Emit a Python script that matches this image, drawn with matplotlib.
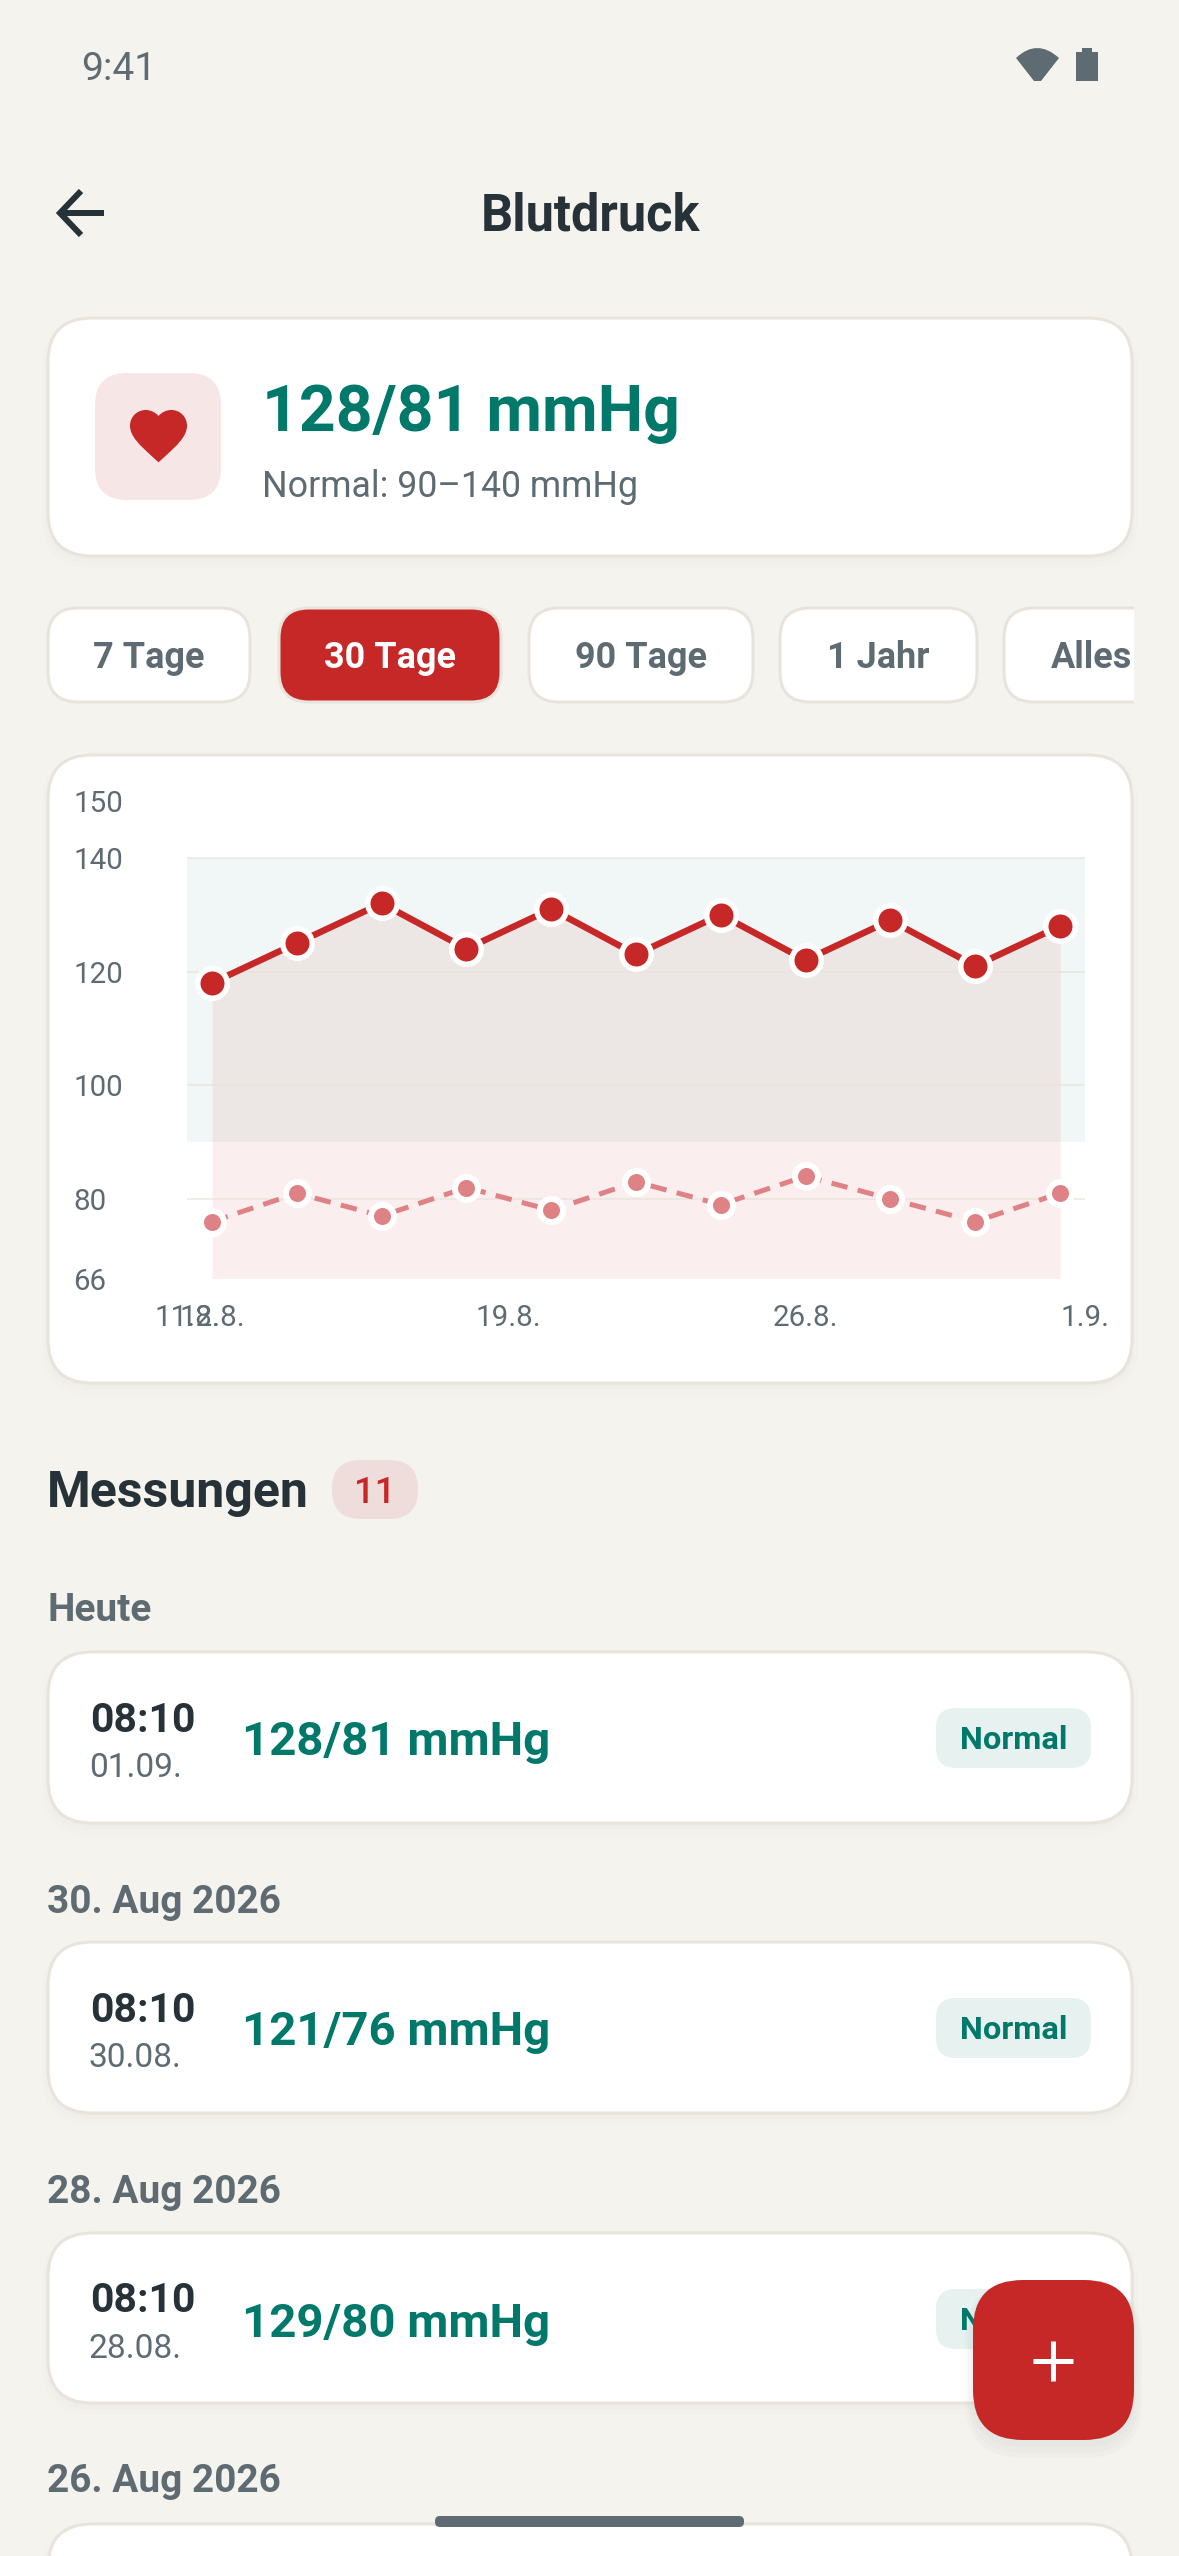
#!/usr/bin/env python3
"""Blutdruck screen: phone UI drawn in pixel coordinates, chart in its own axes."""
import matplotlib

matplotlib.use("Agg")
import matplotlib.pyplot as plt
from matplotlib.patches import FancyBboxPatch, PathPatch, Rectangle
from matplotlib.path import Path

W, H = 1179, 2556

# --- data -------------------------------------------------------------------
DAYS = [0, 2, 4, 6, 8, 10, 12, 14, 16, 18, 20]  # days since 12.8.
SYSTOLIC = [118, 125, 132, 124, 131, 123, 130, 122, 129, 121, 128]
DIASTOLIC = [76, 81, 77, 82, 78, 83, 79, 84, 80, 76, 81]
Y_TICKS = [66, 80, 100, 120, 140, 150]
GRID_Y = [80, 100, 120, 140]
X_TICKS = [-0.59, 0, 7, 14, 20.59]
X_LABELS = ["11.8.", "12.8.", "19.8.", "26.8.", "1.9."]
NORMAL_LOW, NORMAL_HIGH = 90, 140

CHIPS = ["7 Tage", "30 Tage", "90 Tage", "1 Jahr", "Alles"]
SECTIONS = ["Heute", "30. Aug 2026", "28. Aug 2026", "26. Aug 2026"]
TIMES = ["08:10", "08:10", "08:10"]
DATES = ["01.09.", "30.08.", "28.08."]
READINGS = ["128/81 mmHg", "121/76 mmHg", "129/80 mmHg"]

# --- palette ----------------------------------------------------------------
BG = "#F5F3EE"
BORDER = "#E8E4DC"
DARK = "#263238"
MUTED = "#5F6B72"
RED = "#C62828"
RED_SOFT = "#DF8285"
GREEN = "#00796B"

plt.rcParams["font.family"] = ["Roboto", "DejaVu Sans"]

fig = plt.figure(figsize=(W / 100, H / 100), dpi=100, facecolor=BG)
ui = fig.add_axes([0, 0, 1, 1])
ui.set_xlim(0, W)
ui.set_ylim(H, 0)
ui.axis("off")


def px(size):
    return size * 0.72


def box(x0, y0, x1, y1, r, color, edge="none", lw=0, z=2):
    p = FancyBboxPatch((x0, y0), x1 - x0, y1 - y0, boxstyle=f"round,pad=0,rounding_size={r}",
                       fc=color, ec=edge, lw=px(lw), zorder=z)
    ui.add_patch(p)
    return p


def card(x0, y0, x1, y1, r=44):
    # soft shadow, then the bordered card
    for grow, off in ((6, 6), (3, 4), (1, 2)):
        p = box(x0 - grow, y0 - grow + off, x1 + grow, y1 + grow + off, r + grow, "#000000", z=1)
        p.set_alpha(0.006)
    box(x0, y0, x1, y1, r, "white", BORDER, 3)


def label(x, y, s, size, color, weight="normal", ha="left", z=5):
    return ui.text(x, y, s, fontsize=px(size), color=color, fontweight=weight, ha=ha,
                   va="baseline", zorder=z)


# --- status bar and header --------------------------------------------------
label(81, 79.5, "9:41", 39, MUTED)
wifi = Path([(1016, 58), (1037, 38), (1059, 58), (1041, 81), (1034, 81), (1016, 58)],
            [Path.MOVETO, Path.CURVE3, Path.CURVE3, Path.LINETO, Path.LINETO, Path.CLOSEPOLY])
ui.add_patch(PathPatch(wifi, fc=MUTED, ec="none", zorder=3))
ui.add_patch(Rectangle((1076, 52), 22, 29, fc=MUTED, ec="none", zorder=3))
ui.add_patch(Rectangle((1082, 48), 10, 5, fc=MUTED, ec="none", zorder=3))

ui.plot([104, 62], [213, 213], color=DARK, lw=px(6), zorder=3, solid_capstyle="butt")
ui.plot([81, 60, 81], [191, 213, 235], color=DARK, lw=px(6), solid_joinstyle="miter", zorder=3,
        solid_capstyle="butt")
label(591, 230.5, "Blutdruck", 50.5, DARK, "bold", ha="center")

# --- summary card -----------------------------------------------------------
card(48, 318, 1132, 556)
box(95, 373, 221, 500, 32, "#F6E6E6", z=3)
# heart icon, 24-unit grid scaled onto the tile
heart_units = [(12, 21.35), (10.55, 20.03), (5.4, 15.36), (2, 12.28), (2, 8.5), (2, 5.42), (4.42, 3),
               (7.5, 3), (9.24, 3), (10.91, 3.81), (12, 5.09), (13.09, 3.81), (14.76, 3), (16.5, 3),
               (19.58, 3), (22, 5.42), (22, 8.5), (22, 12.28), (18.6, 15.36), (13.45, 20.04),
               (12, 21.35)]
heart_codes = [Path.MOVETO, Path.LINETO] + [Path.CURVE4] * 18 + [Path.CLOSEPOLY]
heart = Path([(130 + (u - 2) * 2.85, 410 + (v - 3) * 2.85) for u, v in heart_units], heart_codes)
ui.add_patch(PathPatch(heart, fc=RED, ec="none", zorder=4))
label(262, 431, READINGS[0], 64.2, GREEN, "bold")
label(262, 497, "Normal: 90–140 mmHg", 35.8, MUTED)

# --- range chips ------------------------------------------------------------
chip_x = [(48, 250), (279, 501), (529, 753), (780, 977), (1004, 1200)]
clip = Rectangle((0, 0), 1134, H, transform=ui.transData)
for i, (name, (x0, x1)) in enumerate(zip(CHIPS, chip_x)):
    active = i == 1
    p = box(x0, 608, x1, 702, 30, RED if active else "white", BORDER, 3, z=2)
    p.set_clip_path(clip)
    tx = (x0 + x1) / 2 if i < 4 else 1092
    t = label(tx, 668, name, 36, "white" if active else MUTED, "bold", ha="center")
    t.set_clip_path(clip)

# --- chart card -------------------------------------------------------------
card(48, 755, 1132, 1383)
chart = fig.add_axes([187 / W, 1 - 1278.5 / H, (1085 - 187) / W, (1278.5 - 801) / H])
chart.patch.set_visible(False)
chart.set_xlim(X_TICKS[0], X_TICKS[-1])
chart.set_ylim(Y_TICKS[0], Y_TICKS[-1])
for s in chart.spines.values():
    s.set_visible(False)

chart.axhspan(NORMAL_LOW, NORMAL_HIGH, color=GREEN, alpha=0.06, lw=0, zorder=1)
chart.fill_between(DAYS, SYSTOLIC, Y_TICKS[0], color=RED, alpha=0.08, lw=0, zorder=1.5)
for v in GRID_Y:
    chart.axhline(v, color=BORDER, lw=px(2), alpha=0.7, zorder=2)

chart.plot(DAYS, DIASTOLIC, color=RED_SOFT, lw=px(5), ls=(0, (3.3, 2.1)), dash_capstyle="butt",
           zorder=3, clip_on=False)
chart.plot(DAYS, DIASTOLIC, ls="none", marker="o", ms=px(23), mfc=RED_SOFT, mec="white",
           mew=px(6), zorder=4, clip_on=False)
chart.plot(DAYS, SYSTOLIC, color=RED, lw=px(6.5), zorder=5, clip_on=False)
chart.plot(DAYS, SYSTOLIC, ls="none", marker="o", ms=px(29.5), mfc=RED, mec="white",
           mew=px(5.5), zorder=6, clip_on=False)

chart.set_yticks(Y_TICKS, [str(v) for v in Y_TICKS])
chart.set_xticks(X_TICKS, X_LABELS)
chart.tick_params(axis="both", length=0, labelsize=px(29.5), labelcolor=MUTED)
chart.tick_params(axis="y", pad=px(114))
chart.tick_params(axis="x", pad=px(25))
for t in chart.get_yticklabels():
    t.set_ha("left")
    t.set_va("center_baseline")

# --- measurements -----------------------------------------------------------
label(47, 1507, "Messungen", 50, DARK, "bold")
box(332, 1460, 418, 1519, 29, "#EEDDDB")
label(375, 1503, "11", 36.5, RED, 500, ha="center")

SECTION_Y = [1621, 1913, 2203, 2492]
CARD_Y = [(1652, 1823), (1942, 2113), (2233, 2403), (2524, 2700)]
for name, y in zip(SECTIONS, SECTION_Y):
    label(47, y, name, 38.8, MUTED, "bold")
for (y0, y1) in CARD_Y:
    card(48, y0, 1132, y1)
for (y0, _), when, day, value in zip(CARD_Y, TIMES, DATES, READINGS):
    label(90, y0 + 79.5, when, 41, DARK, "bold")
    label(89, y0 + 125, day, 33.5, MUTED)
    label(242, y0 + 103.5, value, 47.4, GREEN, "bold")
    box(936, y0 + 56, 1091, y0 + 116, 20, "#E6F1F0", z=3)
    label(1013.5, y0 + 97, "Normal", 32.5, GREEN, "bold", ha="center")

# --- floating button and home bar -------------------------------------------
for grow, off in ((8, 10), (5, 8), (2, 5)):
    p = box(973 - grow, 2280 - grow + off, 1134 + grow, 2440 + grow + off, 50 + grow, "#37474F", z=6)
    p.set_alpha(0.025)
box(973, 2280, 1134, 2440, 50, RED, z=7)
ui.plot([1033, 1073], [2360.5, 2360.5], color="white", lw=px(5), zorder=8, solid_capstyle="butt")
ui.plot([1053, 1053], [2340.5, 2380.5], color="white", lw=px(5), zorder=8, solid_capstyle="butt")
box(435, 2516, 744, 2527, 5, MUTED, z=9)

fig.savefig("out.png", dpi=100, facecolor=BG)
